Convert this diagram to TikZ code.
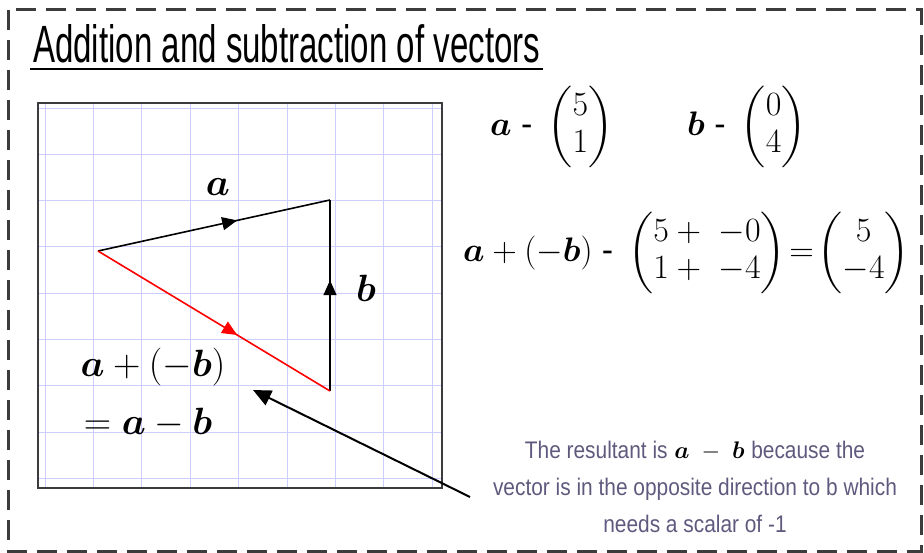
\RequirePackage{fix-cm}
\documentclass[tikz,border=0pt]{standalone}
\usepackage{amsmath,amssymb,bm}
\usepackage{graphicx}
\usepackage{fontspec}
\setmainfont{Liberation Sans}
\usepackage{tikz}
\usetikzlibrary{decorations.markings, arrows.meta, calc}
\definecolor{gridblue}{RGB}{205, 205, 255}
\definecolor{framegrey}{RGB}{60, 60, 60}
\definecolor{notegrey}{RGB}{95, 90, 125}
\definecolor{vecred}{RGB}{255, 0, 0}
\renewcommand{\arraystretch}{0.92}

\begin{document}
\begin{tikzpicture}[x=1pt, y=-1pt,
    gridline/.style={gridblue, line width=0.8pt},
    vecline/.style={line width=1.6pt, postaction={decorate},
        decoration={markings, mark=at position #1 with {\arrow{Triangle[length=15pt,width=13pt]}}}},
    vecline/.default=0.6,
    mathlbl/.style={inner sep=0pt, font=\fontsize{34}{40}\selectfont},
    gridlbl/.style={inner sep=0pt, font=\fontsize{38}{44}\selectfont},
    notetext/.style={inner sep=0pt, align=center, notegrey, font=\fontsize{24}{37}\selectfont},
    pointer/.style={line width=2pt, -{Triangle[length=18pt,width=16pt]}}]
    \useasboundingbox (0,0) rectangle (924,553);

    % Dashed frame and title
    \draw[framegrey, line width=3pt, dash pattern=on 20pt off 10pt] (8,10) rectangle (921,551);
    \node[inner sep=0pt, anchor=base west] (title) at (33,63)
        {\resizebox{507pt}{38pt}{Addition and subtraction of vectors}};
    \draw[line width=1.8pt] ([xshift=-3pt,yshift=-5pt]title.south west) -- ([xshift=3pt,yshift=-5pt]title.south east);

    % Squared paper
    \foreach \i in {0,...,8} {
        \draw[gridline] (45+48.4*\i,104) -- (45+48.4*\i,487);
        \draw[gridline] (39,108+46.3*\i) -- (441,108+46.3*\i);
    }
    \draw[framegrey, line width=2pt] (38,103) rectangle (442,488);

    % Vectors
    \coordinate (O) at (98,251);
    \coordinate (A) at (330,200);
    \coordinate (B) at (330,391);
    \draw[vecline=0.6] (O) -- (A);
    \draw[vecline=0.58] (B) -- (A);
    \draw[vecline=0.6, vecred] (O) -- (B);
    \node[gridlbl] (alabel) at (218,187) {$\bm{a}$};
    \node[gridlbl] (blabel) at (366,288) {$\bm{b}$};
    \node[gridlbl] (reslabel) at (153,367) {$\bm{a}+(-\bm{b})$};
    \node[gridlbl] (reslabel2) at (148,423) {$=\bm{a}-\bm{b}$};

    % Column vectors
    \node[mathlbl, anchor=west] (aeq) at (490,127)
        {$\bm{a}\;\text{-}\;\begin{pmatrix}5\\1\end{pmatrix}$};
    \node[mathlbl, anchor=west] (beq) at (687,127)
        {$\bm{b}\;\text{-}\;\begin{pmatrix}0\\4\end{pmatrix}$};
    \node[mathlbl, anchor=west] (sumeq) at (463,253)
        {$\bm{a}+(-\bm{b})\;\text{-}\;\begin{pmatrix}5+{} & -0\\1+{} & -4\end{pmatrix}\!=\!\begin{pmatrix}5\\-4\end{pmatrix}$};

    % Note and pointer
    \node[notetext] (note) at (695,487)
        {\scalebox{0.87}[1]{The resultant is} {\color{black}$\bm{a}\;-\;\bm{b}$} \scalebox{0.87}[1]{because the}\\
         \scalebox{0.87}[1]{vector is in the opposite direction to b which}\\
         \scalebox{0.87}[1]{needs a scalar of -1}};
    \coordinate (ptail) at (470,497);
    \coordinate (ptip) at (253,390);
    \draw[pointer] (ptail) -- (ptip);
\end{tikzpicture}
\end{document}
